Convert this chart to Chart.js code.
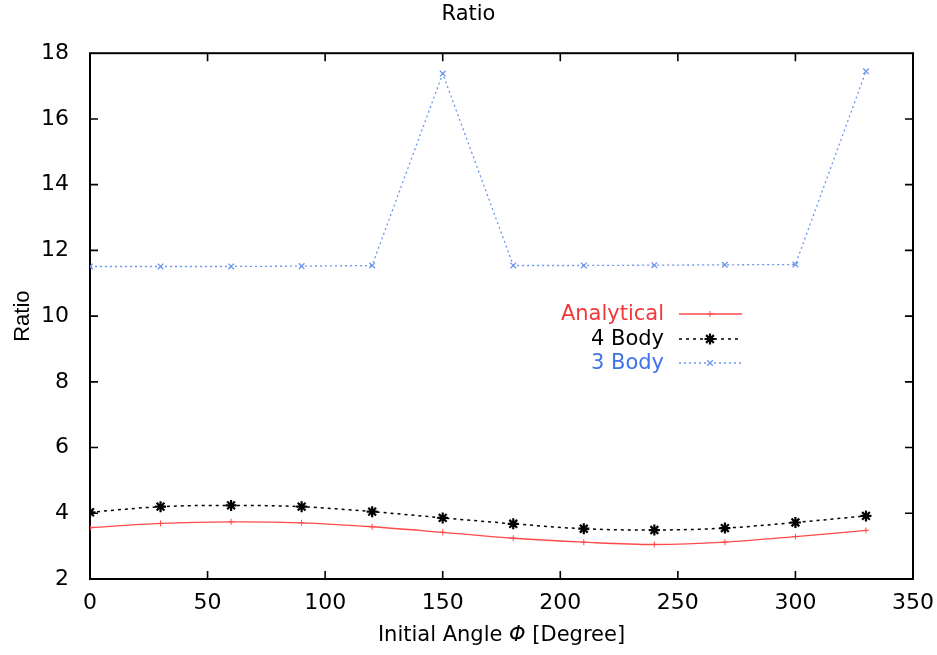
<!DOCTYPE html>
<html>
<head>
<meta charset="utf-8">
<script src="https://cdn.jsdelivr.net/npm/chart.js@4.4.0/dist/chart.umd.min.js"></script>
<style>
html,body{margin:0;padding:0;background:#fff;}
#wrap{width:937px;height:655px;}
</style>
</head>
<body>
<div id="wrap"><canvas id="c" width="937" height="655"></canvas></div>
<script>
const angles = [0, 30, 60, 90, 120, 150, 180, 210, 240, 270, 300, 330];
const analytical = [3.56, 3.69, 3.74, 3.71, 3.59, 3.42, 3.24, 3.12, 3.05, 3.12, 3.29, 3.48];
const body4 = [4.03, 4.20, 4.24, 4.20, 4.05, 3.86, 3.68, 3.53, 3.49, 3.55, 3.72, 3.92];
const body3 = [11.51, 11.51, 11.51, 11.52, 11.54, 17.38, 11.54, 11.54, 11.55, 11.56, 11.57, 17.45];
const seriesNames = ['Analytical', '4 Body', '3 Body'];
const xTicks = [0, 50, 100, 150, 200, 250, 300, 350];
const yTicks = [2, 4, 6, 8, 10, 12, 14, 16, 18];

const FONT = "'DejaVu Sans', sans-serif";
const FONT_V = "'Liberation Sans', Arial, sans-serif";
const RED = '#ff4a4a', BLACK = '#000000', BLUE = '#6a96f0';
const textColors = ['#f03a3a', '#000000', '#3f74e8'];

function pts(ys){ return angles.map((a,i)=>({x:a, y:ys[i]})); }

const frameTicks = {
  id:'frameTicks',
  beforeDatasetsDraw(chart){
    const {ctx, chartArea:a, scales:{x, y}} = chart;
    ctx.save();
    ctx.strokeStyle = '#000';
    ctx.lineWidth = 1.6;
    const L = 8;
    ctx.beginPath();
    xTicks.forEach(v=>{
      const px = x.getPixelForValue(v);
      if (v !== 0 && v !== 350) {
        ctx.moveTo(px, a.bottom); ctx.lineTo(px, a.bottom - L);
        ctx.moveTo(px, a.top); ctx.lineTo(px, a.top + L);
      }
    });
    yTicks.forEach(v=>{
      const py = y.getPixelForValue(v);
      if (v !== 2 && v !== 18) {
        ctx.moveTo(a.left, py); ctx.lineTo(a.left + L, py);
        ctx.moveTo(a.right, py); ctx.lineTo(a.right - L, py);
      }
    });
    ctx.stroke();
    ctx.lineWidth = 2;
    ctx.strokeRect(a.left, a.top, a.right - a.left, a.bottom - a.top);
    ctx.restore();
  },
  afterDraw(chart){
    const {ctx, chartArea:a} = chart;
    ctx.save();
    ctx.fillStyle = '#000';
    ctx.textBaseline = 'middle';
    const p1 = 'Initial Angle ', p2 = 'Φ', p3 = ' [Degree]';
    ctx.font = '21px ' + FONT;
    const w1 = ctx.measureText(p1).width, w3 = ctx.measureText(p3).width;
    ctx.font = 'italic 21px ' + FONT;
    const w2 = ctx.measureText(p2).width;
    const total = w1 + w2 + w3;
    let sx = (a.left + a.right)/2 - total/2;
    const ty = 636;
    ctx.textAlign = 'left';
    ctx.font = '21px ' + FONT; ctx.fillText(p1, sx, ty); sx += w1;
    ctx.font = 'italic 21px ' + FONT; ctx.fillText(p2, sx, ty); sx += w2;
    ctx.font = '21px ' + FONT; ctx.fillText(p3, sx, ty);
    ctx.save();
    ctx.translate(23, (a.top + a.bottom)/2);
    ctx.rotate(-Math.PI/2);
    ctx.textAlign = 'center';
    ctx.font = '22px ' + FONT_V;
    ctx.fillText('Ratio', 0, 0);
    ctx.restore();
    const rows = [314, 339, 363];
    const ds = chart.data.datasets;
    ctx.font = '21px ' + FONT;
    ctx.textAlign = 'right';
    rows.forEach((ry, i)=>{
      ctx.fillStyle = textColors[i];
      ctx.fillText(seriesNames[i], 664, ry + 1);
      const d = ds[i];
      ctx.strokeStyle = d.borderColor;
      ctx.lineWidth = d.borderWidth;
      ctx.setLineDash(d.borderDash || []);
      ctx.beginPath(); ctx.moveTo(679, ry); ctx.lineTo(742, ry); ctx.stroke();
      ctx.setLineDash([]);
      ctx.strokeStyle = d.pointBorderColor || d.borderColor;
      ctx.fillStyle = d.pointBorderColor || d.borderColor;
      ctx.lineWidth = d.pointBorderWidth || 1;
      Chart.helpers.drawPoint(ctx, {pointStyle: d.pointStyle, radius: d.pointRadius, borderWidth: d.pointBorderWidth || 1, rotation: 0}, 710, ry);
    });
    ctx.restore();
  }
};

new Chart(document.getElementById('c'), {
  type:'line',
  data:{
    datasets:[
      {label:seriesNames[0], data:pts(analytical), borderColor:RED, backgroundColor:RED, borderWidth:1.3,
       pointStyle:'cross', pointRadius:3, pointBorderColor:RED, pointBorderWidth:1, tension:0.35, fill:false},
      {label:seriesNames[1], data:pts(body4), borderColor:BLACK, backgroundColor:BLACK, borderWidth:1.5, borderDash:[3,4],
       pointStyle:'star', pointRadius:5.5, pointBorderColor:BLACK, pointBorderWidth:2.2, tension:0.35, fill:false},
      {label:seriesNames[2], data:pts(body3), borderColor:BLUE, backgroundColor:BLUE, borderWidth:1.3, borderDash:[2,3],
       pointStyle:'crossRot', pointRadius:4, pointBorderColor:BLUE, pointBorderWidth:1.3, tension:0, fill:false}
    ]
  },
  options:{
    responsive:false,
    animation:false,
    layout:{padding:0},
    plugins:{
      legend:{display:false},
      tooltip:{enabled:false},
      title:{display:true, text:'Ratio', color:'#000', font:{family:FONT, size:21, weight:'normal', lineHeight:1.2}, padding:{top:2, bottom:26}}
    },
    scales:{
      x:{type:'linear', min:0, max:350,
         afterBuildTicks(s){ s.ticks = xTicks.map(v=>({value:v})); },
         afterFit(s){ s.height = 76; s.paddingRight = 24; s.paddingLeft = 0; },
         grid:{display:false, drawTicks:false}, border:{display:false},
         ticks:{color:'#000', font:{family:FONT, size:22}, padding:11, maxRotation:0}},
      y:{type:'linear', min:2, max:18,
         afterBuildTicks(s){ s.ticks = yTicks.map(v=>({value:v})); },
         afterFit(s){ s.width = 90; },
         grid:{display:false, drawTicks:false}, border:{display:false},
         ticks:{color:'#000', font:{family:FONT, size:22}, padding:21}}
    }
  },
  plugins:[frameTicks]
});
</script>
</body>
</html>
